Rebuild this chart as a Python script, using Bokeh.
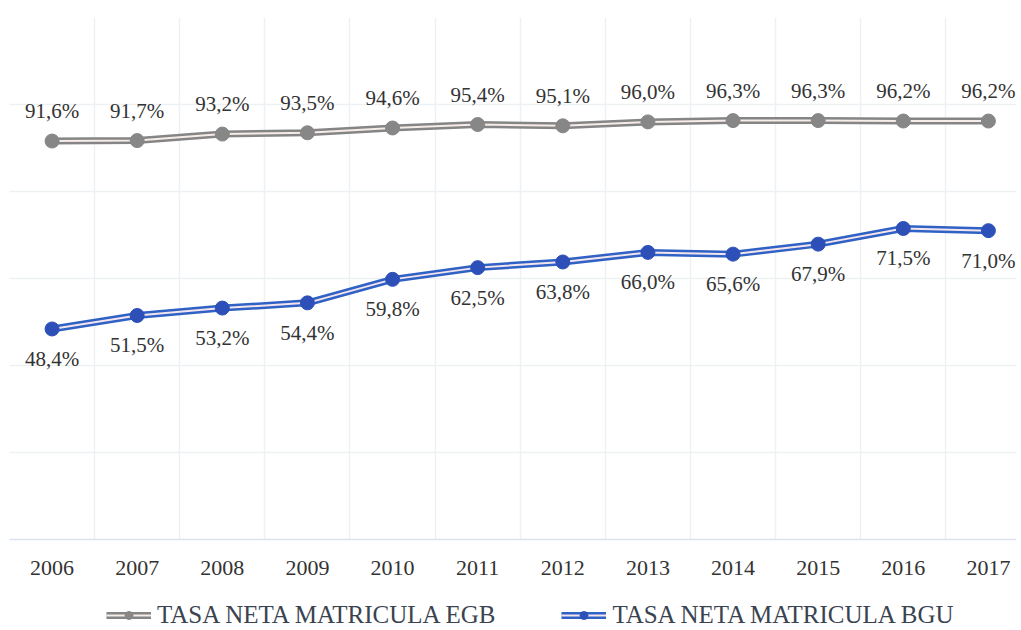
from bokeh.plotting import figure
from bokeh.layouts import column
from bokeh.models import ColumnDataSource, FixedTicker, Grid, Legend, LegendItem
from bokeh.core.properties import value
from bokeh.embed import file_html
from bokeh.resources import INLINE

# ---- data ----
years = ["2006", "2007", "2008", "2009", "2010", "2011",
         "2012", "2013", "2014", "2015", "2016", "2017"]
egb = [91.6, 91.7, 93.2, 93.5, 94.6, 95.4, 95.1, 96.0, 96.3, 96.3, 96.2, 96.2]
bgu = [48.4, 51.5, 53.2, 54.4, 59.8, 62.5, 63.8, 66.0, 65.6, 67.9, 71.5, 71.0]
y_grid_ticks = [0, 20, 40, 60, 80, 100, 120]
series_names = ["TASA NETA MATRICULA EGB", "TASA NETA MATRICULA BGU"]

FONT = "'Liberation Serif', 'DejaVu Serif', serif"
TEXT = "#333333"
GREY_LINE, GREY_INNER, GREY_DOT = "#858585", "#f6ece8", "#878787"
BLUE_LINE, BLUE_INNER, BLUE_DOT = "#2f62c4", "#f3e4ee", "#2d50b8"


def fmt(v):
    return f"{v:.1f}%".replace(".", ",")


idx = list(range(len(years)))
src_egb = ColumnDataSource(dict(x=idx, y=egb, lab=[fmt(v) for v in egb]))
src_bgu = ColumnDataSource(dict(x=idx, y=bgu, lab=[fmt(v) for v in bgu]))

p = figure(frame_width=1007, frame_height=522,
           x_range=(-0.5, 11.33), y_range=(0, 120),
           y_axis_location=None, toolbar_location=None,
           output_backend="svg", min_border_left=9, min_border_right=0,
           min_border_top=17, min_border_bottom=45,
           outline_line_color=None, background_fill_color="white")

# grids
p.xgrid.ticker = FixedTicker(ticks=[i - 0.5 for i in range(len(years) + 1)])
p.xgrid.grid_line_color = "#eef1f4"
p.xgrid.grid_line_width = 1.5
p.add_layout(Grid(dimension=1, ticker=FixedTicker(ticks=y_grid_ticks),
                  grid_line_color="#eef1f4", grid_line_width=1.5))

# x axis
p.xaxis.ticker = FixedTicker(ticks=idx)
p.xaxis.major_label_overrides = {i: y for i, y in enumerate(years)}
p.xaxis.axis_line_color = "#d9e4ee"
p.xaxis.axis_line_width = 1.5
p.xaxis.major_tick_line_color = None
p.xaxis.minor_tick_line_color = None
p.xaxis.major_label_text_font = FONT
p.xaxis.major_label_text_font_size = "22px"
p.xaxis.major_label_text_color = TEXT
p.xaxis.major_label_standoff = 15


def draw_series(fig, src, outer, inner, dot):
    r1 = fig.line("x", "y", source=src, line_color=outer, line_width=7)
    r2 = fig.line("x", "y", source=src, line_color=inner, line_width=2)
    r3 = fig.scatter("x", "y", source=src, size=14, fill_color=dot,
                     line_color=dot)
    return [r1, r2, r3]


draw_series(p, src_egb, GREY_LINE, GREY_INNER, GREY_DOT)
p.text("x", "y", text="lab", source=src_egb, text_font=value(FONT),
       text_font_size="21px", text_color=TEXT, text_align="center",
       text_baseline="middle", y_offset=-30)

draw_series(p, src_bgu, BLUE_LINE, BLUE_INNER, BLUE_DOT)
p.text("x", "y", text="lab", source=src_bgu, text_font=value(FONT),
       text_font_size="21px", text_color=TEXT, text_align="center",
       text_baseline="middle", y_offset=30)

# ---- legend strip: same series and styles, view range kept off the data ----
leg = figure(width=1016, height=45, x_range=(-0.5, 11.33), y_range=(-20, -10),
             x_axis_location=None, y_axis_location=None,
             toolbar_location=None, output_backend="svg", min_border=0,
             outline_line_color=None)
leg.grid.visible = False
r_egb = draw_series(leg, src_egb, GREY_LINE, GREY_INNER, GREY_DOT)
r_bgu = draw_series(leg, src_bgu, BLUE_LINE, BLUE_INNER, BLUE_DOT)

legend = Legend(items=[LegendItem(label=series_names[0], renderers=r_egb),
                       LegendItem(label=series_names[1], renderers=r_bgu)],
                orientation="horizontal", location=(97, 0),
                label_text_font=FONT, label_text_font_size="25px",
                label_text_color="#3a4350", glyph_width=45, glyph_height=20,
                label_standoff=6, spacing=66, padding=0, margin=0,
                border_line_color=None, background_fill_alpha=0)
leg.add_layout(legend)

layout = column(p, leg, spacing=0)
open("out.html", "w").write(file_html(layout, INLINE))
